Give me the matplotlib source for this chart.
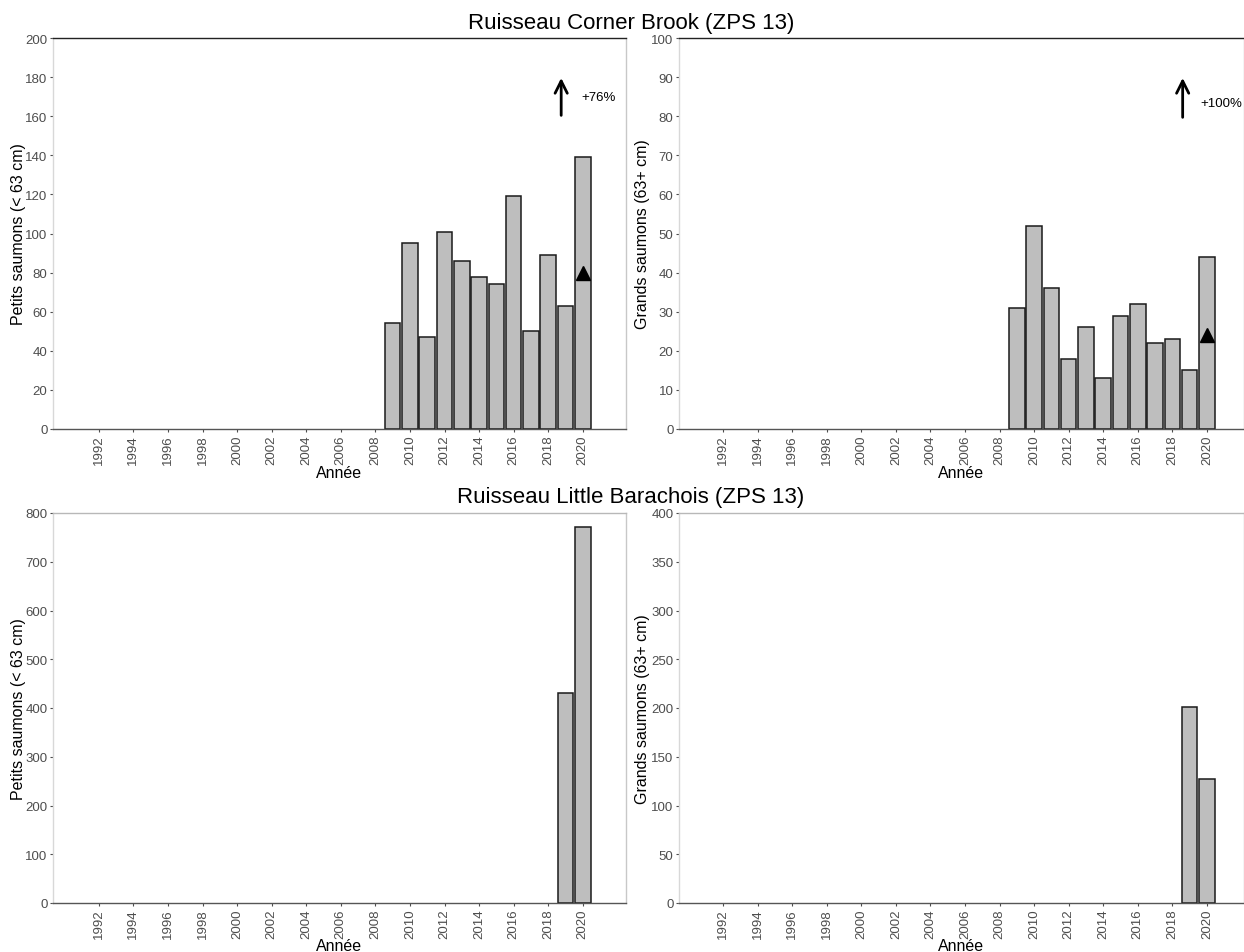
import matplotlib.pyplot as plt
import numpy as np

plt.rcParams['font.family'] = ['Liberation Sans', 'DejaVu Sans']

years_tick = list(range(1992, 2021, 2))

# Ruisseau Corner Brook
cb_years = [2009, 2010, 2011, 2012, 2013, 2014, 2015, 2016, 2017, 2018, 2019, 2020]
cb_small = [54, 95, 47, 101, 86, 78, 74, 119, 50, 89, 63, 139]
cb_large = [31, 52, 36, 18, 26, 13, 29, 32, 22, 23, 15, 44]
cb_small_mean = 80
cb_large_mean = 24

# Ruisseau Little Barachois
lb_years = [2019, 2020]
lb_small = [430, 772]
lb_large = [201, 127]

fig = plt.figure(figsize=(12.44, 9.53), dpi=100)

W, H = 1244, 953
def box(x0, y0, x1, y1):
    return [x0 / W, 1 - y1 / H, (x1 - x0) / W, (y1 - y0) / H]

ax1 = fig.add_axes(box(53, 39, 626, 430))
ax2 = fig.add_axes(box(679, 39, 1244, 430))
ax3 = fig.add_axes(box(53, 514, 626, 904))
ax4 = fig.add_axes(box(679, 514, 1244, 904))

def style(ax, xlim, ylim, yticks, ylabel, top_color, ylab_x):
    ax.set_xlim(*xlim)
    ax.set_ylim(*ylim)
    ax.set_yticks(yticks)
    ax.set_xticks(years_tick)
    ax.set_xticklabels([str(y) for y in years_tick], rotation=90)
    ax.tick_params(axis='both', colors='#4D4D4D', labelsize=9.5, length=2.5, width=0.8, pad=1.5)
    ax.set_xlabel('Année', fontsize=11.5, va='center')
    ax.xaxis.set_label_coords(0.5, -43 / 391)
    ax.set_ylabel(ylabel, fontsize=11.5, va='center')
    ax.yaxis.set_label_coords(ylab_x, 0.5)
    ax.spines['top'].set_color(top_color)
    ax.spines['right'].set_color('#C8C8C8')
    ax.spines['left'].set_color('#D8D8D8')
    ax.spines['bottom'].set_color('#555555')
    for s in ax.spines.values():
        s.set_linewidth(1)

def bars(ax, x, y):
    ax.bar(x, y, width=0.9, color='#BEBEBE', edgecolor='#1A1A1A', linewidth=1.1, zorder=2)

bars(ax1, cb_years, cb_small)
ax1.plot([2020], [cb_small_mean], marker='^', color='black', markersize=9.5, zorder=3)
style(ax1, (1989.35, 2022.5), (0, 200), range(0, 201, 20), 'Petits saumons (< 63 cm)', '#222222', -34 / 573)
ax1.annotate('', xy=(2018.75, 181), xytext=(2018.75, 159),
             arrowprops=dict(arrowstyle='->', lw=2, color='black', mutation_scale=22))
ax1.text(2019.9, 170, '+76%', fontsize=9.5, va='center', ha='left')

bars(ax2, cb_years, cb_large)
ax2.plot([2020], [cb_large_mean], marker='^', color='black', markersize=9.5, zorder=3)
style(ax2, (1989.45, 2022.15), (0, 100), range(0, 101, 10), 'Grands saumons (63+ cm)', '#222222', -37 / 565)
ax2.annotate('', xy=(2018.6, 90.5), xytext=(2018.6, 79),
             arrowprops=dict(arrowstyle='->', lw=2, color='black', mutation_scale=22))
ax2.text(2019.6, 83.5, '+100%', fontsize=9.5, va='center', ha='left')

bars(ax3, lb_years, lb_small)
style(ax3, (1989.35, 2022.5), (0, 800), range(0, 801, 100), 'Petits saumons (< 63 cm)', '#B8B8B8', -34 / 573)

bars(ax4, lb_years, lb_large)
style(ax4, (1989.45, 2022.15), (0, 400), range(0, 401, 50), 'Grands saumons (63+ cm)', '#B8B8B8', -37 / 565)

fig.text(631 / W, 1 - 23 / H, 'Ruisseau Corner Brook (ZPS 13)', ha='center', va='center', fontsize=16)
fig.text(631 / W, 1 - 498 / H, 'Ruisseau Little Barachois (ZPS 13)', ha='center', va='center', fontsize=16)

fig.savefig('out.png', dpi=100)
